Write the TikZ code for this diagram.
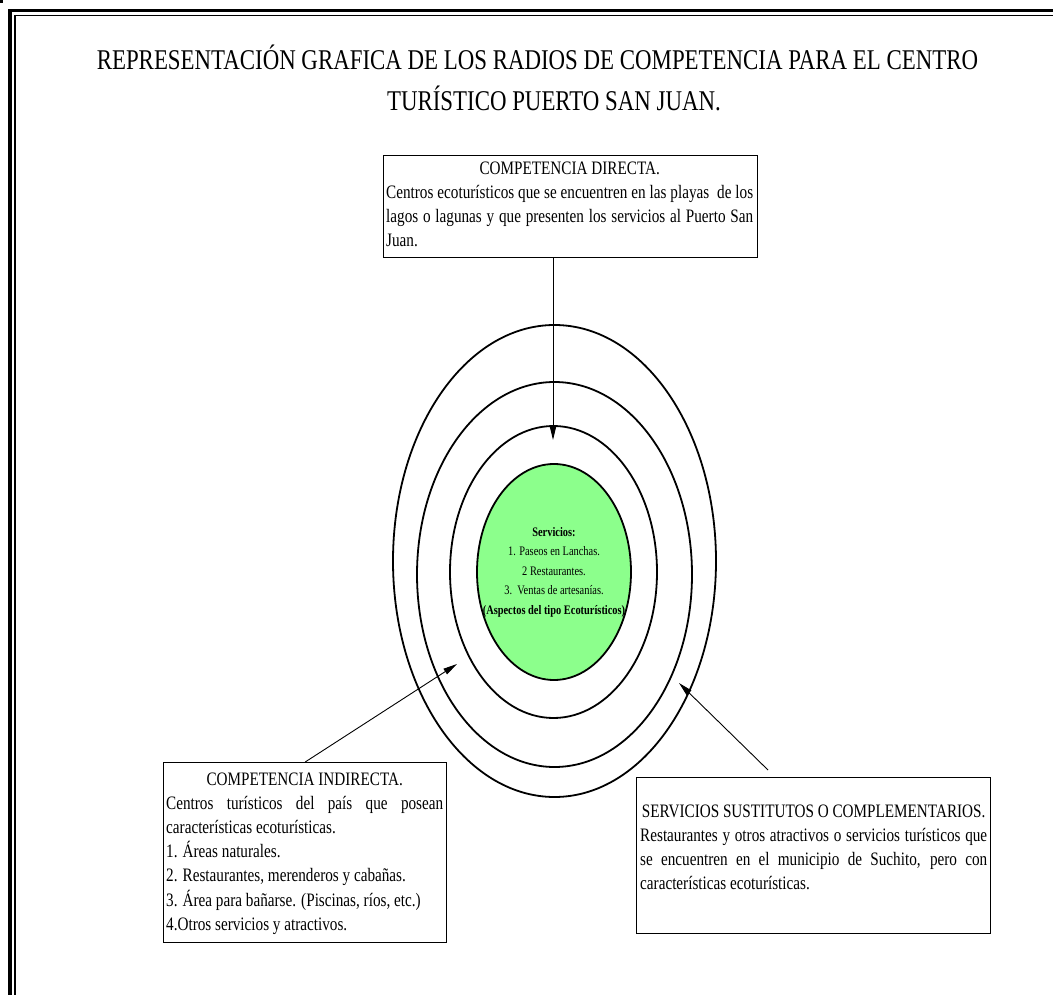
\documentclass[tikz,border=0pt]{standalone}
\usepackage{fontspec}
\setmainfont{Liberation Serif}[FakeStretch=0.8]
\usetikzlibrary{arrows.meta,shapes.geometric}
\definecolor{corefill}{RGB}{140,255,140}
\setlength\parindent{0pt}
% plain font word spaces (with their stretch) inside the panels
\newcommand\plainspaces{\spaceskip=0pt\xspaceskip=0pt\relax}
% a line whose word spaces are stretched to a given width
\newcommand\spreadline[2]{\makebox[#1][s]{\plainspaces #2}}
\newcommand\bodysize{\fontsize{19}{24.2}\selectfont}
\tikzset{
  ring/.style={ellipse, draw, line width=1.8pt, inner sep=0pt},
  panel/.style={rectangle, draw, line width=1.4pt, inner sep=0pt, anchor=north west},
  paneltext/.style={anchor=north west, inner sep=0pt, text width=#1, align=left, font=\bodysize},
  pointer/.style={line width=0.9pt, -{Triangle[length=14pt,width=6.5pt]}},
}
\begin{document}
\begin{tikzpicture}[x=1pt,y=-1pt]
\useasboundingbox (0,0) rectangle (1053,995);

% page frame: thick outer rule, thin inner rule
\fill (0,0) rectangle (3,3);
\draw[line width=3.5pt] (10,995) -- (10,10.5) -- (1053,10.5);
\draw[line width=1.3pt] (15,995) -- (15,15.5) -- (1053,15.5);

% title
\node[anchor=base, inner sep=0pt, font=\fontsize{28.6}{40}\selectfont] (title1) at (537.5,70)
  {REPRESENTACIÓN GRAFICA DE LOS RADIOS DE COMPETENCIA PARA EL CENTRO};
\node[anchor=base, inner sep=0pt, font=\fontsize{28.6}{40}\selectfont] (title2) at (554,111)
  {TURÍSTICO PUERTO SAN JUAN.};

% concentric competition radii
\node[ring, minimum width=323pt, minimum height=472pt] (ringout) at (554.5,561) {};
\node[ring, minimum width=275pt, minimum height=385pt] (ringmid) at (554.5,574.5) {};
\node[ring, minimum width=207pt, minimum height=292pt] (ringin) at (553.5,572) {};
\node[ring, fill=corefill, minimum width=154pt, minimum height=216pt] (core) at (554,572) {};
\node[align=center, inner sep=0pt, font=\fontsize{13}{19.5}\selectfont] (coretxt) at (core.center)
  {\plainspaces\textbf{Servicios:}\\ 1. Paseos en Lanchas.\\ 2 Restaurantes.\\ 3.\ \ Ventas de artesanías.\\
   \textbf{(Aspectos del tipo Ecoturísticos)}};

% direct competition
\node[panel, minimum width=374pt, minimum height=102pt] (dirbox) at (383,155) {};
\node[paneltext=367pt] (dirtxt) at (386,157)
  {\plainspaces\strut\makebox[367pt][c]{COMPETENCIA DIRECTA.}\\
   \spreadline{367pt}{Centros ecoturísticos que se encuentren en las playas\ \ de los}\\
   \spreadline{367pt}{lagos o lagunas y que presenten los servicios al Puerto San}\\
   Juan.};

% indirect competition
\node[panel, minimum width=283pt, minimum height=180pt] (indbox) at (163,762) {};
\node[paneltext=277pt] (indtxt) at (166,768)
  {\plainspaces\strut\makebox[277pt][c]{COMPETENCIA INDIRECTA.}\\
   \spreadline{277pt}{Centros turísticos del país que posean}\\
   características ecoturísticas.\\
   1. Áreas naturales.\\
   2. Restaurantes, merenderos y cabañas.\\
   3. Área para bañarse. (Piscinas, ríos, etc.)\\
   4.Otros servicios y atractivos.};

% substitute or complementary services
\node[panel, minimum width=354pt, minimum height=156pt] (susbox) at (636,777) {};
\node[paneltext=347pt] (sustxt) at (640,800)
  {\plainspaces\strut\makebox[347pt][c]{SERVICIOS SUSTITUTOS O COMPLEMENTARIOS.}\\
   \spreadline{347pt}{Restaurantes y otros atractivos o servicios turísticos que}\\
   \spreadline{347pt}{se encuentren en el municipio de Suchito, pero con}\\
   características ecoturísticas.};

% pointers into the radii
\coordinate (tipdir) at (553,440);
\draw[pointer] (dirbox.south -| tipdir) -- (tipdir);
\coordinate (tipind) at (457,664);
\draw[pointer] (indbox.north) -- (tipind);
\coordinate (tailsus) at (768,770);
\coordinate (tipsus) at (679,683);
\draw[pointer] (tailsus) -- (tipsus);
\end{tikzpicture}
\end{document}
